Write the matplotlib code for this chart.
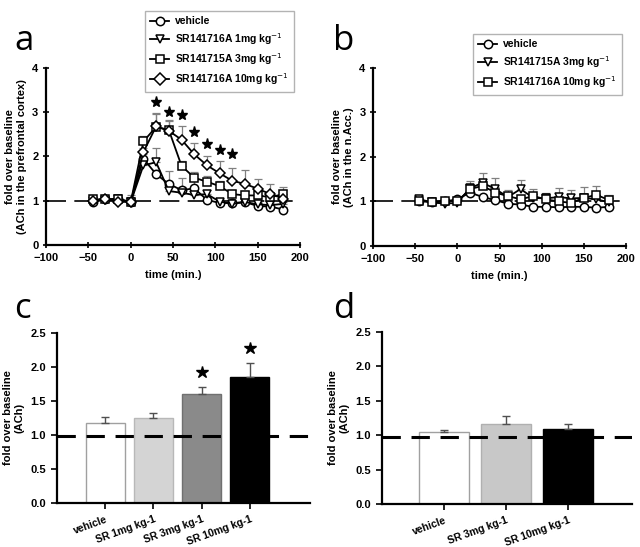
import matplotlib
matplotlib.use("Agg")
import matplotlib.pyplot as plt
import numpy as np

plt.rcParams['font.family'] = ['Liberation Sans', 'DejaVu Sans']

# ---------------- data ----------------
time = [-45, -30, -15, 0, 15, 30, 45, 60, 75, 90, 105, 120, 135, 150, 165, 180]

# panel a (prefrontal cortex)
a_labels = ["vehicle", "SR141716A 1mg kg$^{-1}$", "SR141715A 3mg kg$^{-1}$", "SR141716A 10mg kg$^{-1}$"]
a_vehicle = [0.97, 1.03, 1.03, 0.97, 1.95, 1.60, 1.38, 1.24, 1.28, 1.02, 0.95, 0.95, 0.97, 0.88, 0.87, 0.80]
a_sr1 = [1.00, 1.02, 1.03, 0.97, 1.80, 1.87, 1.22, 1.18, 1.13, 1.15, 0.98, 0.93, 0.97, 0.92, 0.90, 0.93]
a_sr3 = [1.03, 1.03, 1.05, 0.97, 2.34, 2.67, 2.60, 1.79, 1.52, 1.43, 1.33, 1.15, 1.12, 1.12, 1.08, 1.15]
a_sr10 = [1.00, 1.05, 0.98, 0.97, 2.10, 2.68, 2.58, 2.38, 2.05, 1.80, 1.62, 1.45, 1.38, 1.27, 1.15, 1.05]
a_vehicle_err = [0.02, 0.02, 0.02, 0.02, 0.10, 0.10, 0.30, 0.28, 0.18, 0.05, 0.05, 0.05, 0.05, 0.05, 0.10, 0.05]
a_sr1_err = [0.02, 0.02, 0.02, 0.02, 0.10, 0.33, 0.10, 0.12, 0.10, 0.10, 0.05, 0.05, 0.05, 0.05, 0.05, 0.05]
a_sr3_err = [0.02, 0.02, 0.02, 0.02, 0.12, 0.30, 0.22, 0.10, 0.12, 0.12, 0.12, 0.10, 0.10, 0.10, 0.10, 0.15]
a_sr10_err = [0.02, 0.02, 0.02, 0.15, 0.10, 0.30, 0.22, 0.32, 0.25, 0.22, 0.28, 0.30, 0.32, 0.22, 0.22, 0.20]
a_star_time = [30, 45, 60, 75, 90, 105, 120]
a_star_y = [3.24, 3.01, 2.93, 2.55, 2.28, 2.14, 2.05]

# panel b (n.Acc.)
b_labels = ["vehicle", "SR141715A 3mg kg$^{-1}$", "SR141716A 10mg kg$^{-1}$"]
b_vehicle = [1.02, 0.98, 1.00, 1.05, 1.20, 1.10, 1.03, 0.95, 0.93, 0.88, 0.88, 0.87, 0.88, 0.88, 0.86, 0.88]
b_sr3 = [1.05, 0.98, 0.95, 0.97, 1.30, 1.42, 1.28, 1.10, 1.28, 1.08, 1.07, 1.10, 1.07, 1.08, 1.05, 0.98]
b_sr10 = [1.02, 0.98, 1.02, 1.00, 1.28, 1.35, 1.20, 1.12, 1.05, 1.12, 1.05, 1.00, 0.97, 1.08, 1.15, 1.03]
b_vehicle_err = [0.02] * 16
b_sr3_err = [0.02, 0.02, 0.02, 0.02, 0.15, 0.23, 0.05, 0.05, 0.20, 0.05, 0.05, 0.20, 0.18, 0.05, 0.05, 0.05]
b_sr10_err = [0.02, 0.02, 0.02, 0.02, 0.10, 0.10, 0.32, 0.13, 0.05, 0.15, 0.13, 0.05, 0.05, 0.24, 0.20, 0.12]

# panel c (bars, prefrontal)
c_cats = ["vehicle", "SR 1mg kg-1", "SR 3mg kg-1", "SR 10mg kg-1"]
c_vals = [1.17, 1.25, 1.61, 1.86]
c_err = [0.10, 0.07, 0.10, 0.20]
c_star = [None, None, 1.93, 2.28]

# panel d (bars, n.Acc.)
d_cats = ["vehicle", "SR 3mg kg-1", "SR 10mg kg-1"]
d_vals = [1.05, 1.16, 1.09]
d_err = [0.02, 0.12, 0.08]

# ---------------- figure ----------------
fig = plt.figure(figsize=(6.4, 5.47), dpi=100)

TF = dict(fontsize=8, fontweight='bold')


def style_axes(ax):
    for s in ['top', 'right']:
        ax.spines[s].set_visible(False)
    for s in ['left', 'bottom']:
        ax.spines[s].set_linewidth(1.6)
    for lab in ax.get_xticklabels() + ax.get_yticklabels():
        lab.set_fontweight('bold')
        lab.set_fontsize(8)


def line_panel(ax, series, errs, markers, labels, ylabel, legend_bbox):
    ax.axhline(1.0, color='black', lw=1.2, dashes=(12, 5), zorder=1)
    handles = []
    for y, e, m, lab in zip(series, errs, markers, labels):
        ax.errorbar(time, y, yerr=[np.zeros(len(e)), e], fmt='none', ecolor='#808080',
                    elinewidth=0.9, capsize=3, capthick=0.9, zorder=2)
        h, = ax.plot(time, y, color='black', lw=1.3, marker=m, markersize=6,
                     markerfacecolor='white', markeredgecolor='black', markeredgewidth=1.1,
                     label=lab, zorder=3)
        handles.append(h)
    ax.set_xlim(-100, 200)
    ax.set_ylim(0, 4)
    ax.set_xticks([-100, -50, 0, 50, 100, 150, 200])
    ax.set_yticks([0, 1, 2, 3, 4])
    ax.tick_params(direction='inout', length=5, width=1.2, pad=3)
    ax.set_xlabel("time (min.)", **TF, labelpad=5)
    ax.set_ylabel(ylabel, **TF, labelpad=4)
    style_axes(ax)
    leg = ax.legend(handles=handles, loc='upper left', bbox_to_anchor=legend_bbox,
                    bbox_transform=fig.transFigure, frameon=True, fancybox=False,
                    edgecolor='#a0a0a0', prop=dict(weight='bold', size=7.5),
                    handlelength=1.8, handletextpad=0.6, borderpad=0.5, labelspacing=0.42)
    leg.get_frame().set_linewidth(1.0)
    return ax


# panel a
axA = fig.add_axes([0.0719, 0.5521, 0.397, 0.3236])
line_panel(axA, [a_vehicle, a_sr1, a_sr3, a_sr10],
           [a_vehicle_err, a_sr1_err, a_sr3_err, a_sr10_err],
           ['o', 'v', 's', 'D'], a_labels,
           "fold over baseline\n(ACh in the prefrontal cortex)",
           (140 / 640, 1 - 6 / 547))
for m in axA.get_lines():
    if m.get_marker() == 'D':
        m.set_markersize(5.5)
axA.plot(a_star_time, a_star_y, linestyle='none', marker='*', markersize=8,
         color='black', zorder=4)

# panel b
axB = fig.add_axes([0.583, 0.5503, 0.395, 0.3254])
line_panel(axB, [b_vehicle, b_sr3, b_sr10],
           [b_vehicle_err, b_sr3_err, b_sr10_err],
           ['o', 'v', 's'], b_labels,
           "fold over baseline\n(ACh in the n.Acc.)",
           (468 / 640, 1 - 29 / 547))


def bar_panel(ax, cats, vals, errs, colors, edges, width, xlim):
    x = np.arange(len(cats))
    ax.bar(x, vals, width=width, color=colors, edgecolor=edges, linewidth=1.0, zorder=2)
    ax.errorbar(x, vals, yerr=[np.zeros(len(errs)), errs], fmt='none', ecolor='#505050',
                elinewidth=1.0, capsize=3, capthick=1.0, zorder=3)
    ax.axhline(0.98, color='black', lw=2.2, dashes=(6, 3.5), zorder=4)
    ax.set_xlim(*xlim)
    ax.set_ylim(0, 2.5)
    ax.set_yticks([0, 0.5, 1.0, 1.5, 2.0, 2.5])
    ax.set_yticklabels([f"{v:.1f}" for v in [0, 0.5, 1.0, 1.5, 2.0, 2.5]])
    ax.set_xticks(x)
    ax.set_xticklabels(cats, rotation=20, ha='right', va='top', rotation_mode='anchor')
    ax.tick_params(direction='out', length=4, width=1.2, pad=4)
    ax.tick_params(axis='x', pad=4)
    ax.set_ylabel("fold over baseline\n(ACh)", **TF, labelpad=4)
    style_axes(ax)
    for lab in ax.get_xticklabels():
        lab.set_fontsize(7.5)
    return x


# panel c
axC = fig.add_axes([0.089, 0.0804, 0.395, 0.3108])
xc = bar_panel(axC, c_cats, c_vals, c_err,
               ['white', '#d4d4d4', '#8a8a8a', 'black'],
               ['#a0a0a0', '#b8b8b8', '#707070', 'black'], 0.81, (-1.0, 4.24))
for xi, s in zip(xc, c_star):
    if s is not None:
        axC.plot(xi, s, marker='*', markersize=9, color='black', linestyle='none', zorder=5)

# panel d
axD = fig.add_axes([0.597, 0.0786, 0.3906, 0.3144])
bar_panel(axD, d_cats, d_vals, d_err,
          ['white', '#c8c8c8', 'black'],
          ['#a0a0a0', '#b0b0b0', 'black'], 0.8, (-1.0, 3.03))

# panel letters
for lab, (px, py) in zip("abcd", [(14, 50), (333, 50), (14, 318), (333, 318)]):
    fig.text(px / 640, 1 - py / 547, lab, fontsize=25, family='Open Sans', va='baseline')

fig.savefig("out.png", dpi=100)
